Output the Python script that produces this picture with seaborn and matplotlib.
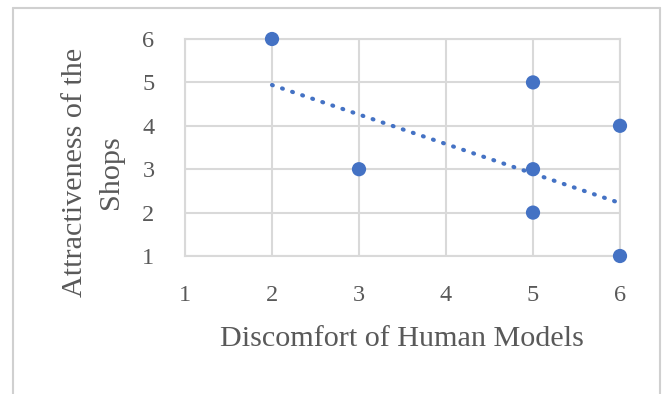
import matplotlib
matplotlib.use("Agg")
import matplotlib.pyplot as plt
import seaborn as sns
import pandas as pd
from matplotlib.lines import Line2D

# Data
discomfort = [2, 3, 5, 5, 5, 6, 6]
attractiveness = [6, 3, 5, 3, 2, 4, 1]
trend_x = [2, 6]
trend_y = [4.94, 2.22]
ticks = [1, 2, 3, 4, 5, 6]

df = pd.DataFrame({"x": discomfort, "y": attractiveness})
tdf = pd.DataFrame({"x": trend_x, "y": trend_y})

sns.set_theme(style="white")
plt.rcParams['font.family'] = ['Liberation Serif', 'DejaVu Serif']

W, H = 662, 394
fig = plt.figure(figsize=(W / 100, H / 100), dpi=100)
ax = fig.add_axes([185 / W, 1 - 256 / H, (620 - 185) / W, (256 - 39) / H])

blue = "#4472C4"
grid = "#D9D9D9"
txt = "#595959"

line, = ax.plot(tdf["x"], tdf["y"], color=blue, linewidth=3.0,
                linestyle=(0, (0.2, 2.35)), zorder=3)
line.set_dash_capstyle("round")
sns.scatterplot(data=df, x="x", y="y", ax=ax, color=blue, s=105,
                edgecolor="none", zorder=4, clip_on=False)

ax.set_xlim(1, 6)
ax.set_ylim(1, 6)
ax.set_xticks(ticks)
ax.set_yticks(ticks)
ax.grid(True, color=grid, linewidth=1.5)
ax.set_axisbelow(True)
for s in ax.spines.values():
    s.set_visible(True)
    s.set_color(grid)
    s.set_linewidth(1.5)
ax.tick_params(axis="both", length=0, labelsize=17.5, labelcolor=txt)
ax.tick_params(axis="y", pad=22)
ax.tick_params(axis="x", pad=21)
ax.set_xlabel("")
ax.set_ylabel("")

fig.text(402 / W, 1 - 339 / H, "Discomfort of Human Models", ha="center",
         va="center", fontsize=21.7, color=txt)
fig.text(93 / W, 1 - 172 / H, "Attractiveness of the\nShops", ha="center",
         va="center", rotation=90, fontsize=21.7, color=txt, linespacing=1.55,
         multialignment="center")

# Chart frame
fc = "#D0D0D0"
fig.add_artist(Line2D([13 / W, 13 / W], [0, 1 - 8 / H], transform=fig.transFigure,
                      color=fc, linewidth=1.5))
fig.add_artist(Line2D([13 / W, 660 / W], [1 - 8 / H, 1 - 8 / H], transform=fig.transFigure,
                      color=fc, linewidth=1.5))
fig.add_artist(Line2D([660 / W, 660 / W], [0, 1 - 8 / H], transform=fig.transFigure,
                      color=fc, linewidth=1.5))

fig.savefig("out.png", dpi=100)
